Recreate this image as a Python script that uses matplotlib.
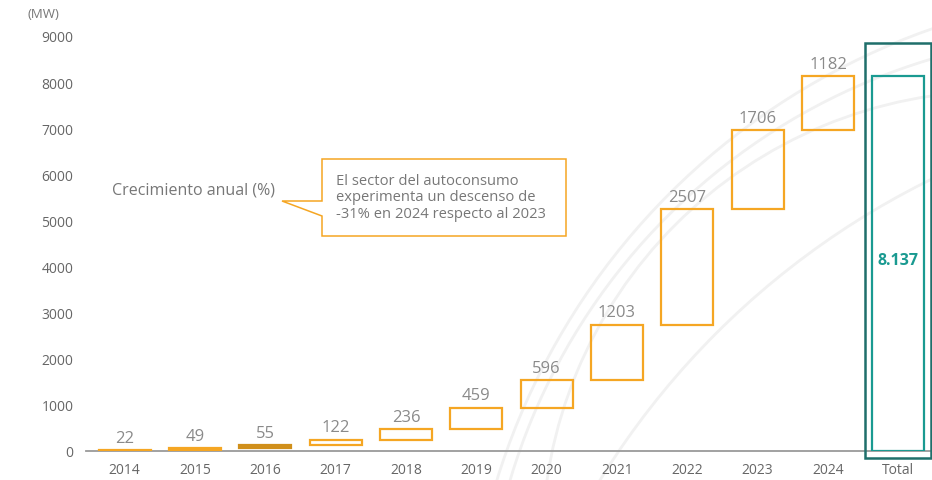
import numpy as np
import matplotlib
matplotlib.use("Agg")
import matplotlib.pyplot as plt
from matplotlib.patches import Rectangle, Polygon, Arc

plt.rcParams['font.family'] = ['Open Sans', 'DejaVu Sans']

# annual additions of self-consumption capacity (MW)
years = ['2014', '2015', '2016', '2017', '2018', '2019',
         '2020', '2021', '2022', '2023', '2024']
added = [22, 49, 55, 122, 236, 459, 596, 1203, 2507, 1706, 1182]
total_label = 'Total'
total_text = '8.137'
yticks = [0, 1000, 2000, 3000, 4000, 5000, 6000, 7000, 8000, 9000]

orange = '#f5a623'
teal = '#1a9a91'
teal_dark = '#1f6f6b'

W, H = 932, 481
fig = plt.figure(figsize=(W / 100, H / 100), dpi=100)

# faint decorative arcs in the background (pixel space)
bg = fig.add_axes([0, 0, 1, 1], zorder=0)
bg.set_xlim(0, W)
bg.set_ylim(H, 0)
bg.axis('off')
for (cx, cy), r in [((1161, 686), 695), ((1110, 660), 626),
                    ((998, 548), 456), ((1289, 907), 810)]:
    bg.add_patch(Arc((cx, cy), 2 * r, 2 * r, theta1=0, theta2=360,
                     color='#f1f1f1', lw=2.0))

ax = fig.add_axes([86 / W, 29 / H, 844 / W, 415 / H], zorder=1)
ax.patch.set_alpha(0)

vals = np.array(added)
tops = np.cumsum(vals)
bottoms = tops - vals
x = np.arange(len(years))
width = 0.74

edge = [orange] * len(years)
face = ['none'] * len(years)
edge[2] = '#d08f1a'
face[2] = '#d08f1a'
ax.bar(x, vals, bottom=bottoms, width=width, facecolor=face,
       edgecolor=edge, linewidth=1.6, zorder=3)
for xi, v, t in zip(x, vals, tops):
    ax.annotate(str(v), (xi, t), xytext=(0, 3), textcoords='offset points',
                ha='center', va='bottom', fontsize=12, color='#8a8a8a')

# total column
xt = len(years)
total = tops[-1]
ax.bar(xt, total, width=width, facecolor='none', edgecolor=teal,
       linewidth=1.6, zorder=3)
ax.add_patch(Rectangle((xt - 0.47, -160), 0.94, total + 870, fill=False,
                       edgecolor=teal_dark, linewidth=1.8, clip_on=False,
                       zorder=4))
ax.text(xt, 4150, total_text, ha='center', va='center', fontsize=11.5,
        fontweight='bold', color=teal)

ax.set_xlim(-0.55, 11.45)
ax.set_ylim(0, 9000)
ax.set_xticks(list(x) + [xt])
ax.set_xticklabels(years + [total_label])
ax.set_yticks(yticks)
ax.tick_params(length=0, labelsize=10, colors='#666666')
ax.tick_params(axis='x', pad=8)
ax.tick_params(axis='y', pad=9)
for s in ('top', 'right', 'left'):
    ax.spines[s].set_visible(False)
ax.spines['bottom'].set_color('#9a9a9a')
ax.spines['bottom'].set_linewidth(1.3)

fig.text(27 / W, 1 - 14 / H, '(MW)', fontsize=9.5, color='#777777',
         va='center', ha='left')

# callout box with pointer
top = fig.add_axes([0, 0, 1, 1], zorder=2)
top.set_xlim(0, W)
top.set_ylim(H, 0)
top.axis('off')
top.add_patch(Polygon([(322, 160), (566, 160), (566, 237), (322, 237),
                       (322, 217), (282, 202), (322, 202)],
                      closed=True, facecolor='white', edgecolor=orange,
                      linewidth=1.1))
top.text(336, 198, 'El sector del autoconsumo\nexperimenta un descenso de\n'
         '-31% en 2024 respecto al 2023', ha='left', va='center',
         fontsize=10.6, color='#777777', linespacing=1.1)
top.text(112, 191, 'Crecimiento anual (%)', ha='left', va='center',
         fontsize=11.5, color='#777777')

fig.savefig('out.png', dpi=100)
